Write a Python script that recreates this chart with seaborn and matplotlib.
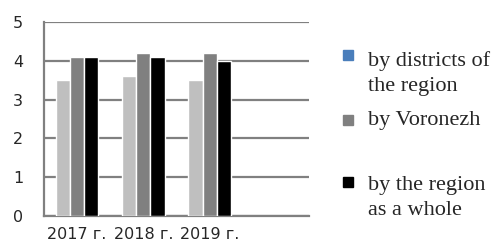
import matplotlib
matplotlib.use("Agg")
import matplotlib.pyplot as plt
import pandas as pd
import seaborn as sns
from matplotlib.patches import Rectangle

years = ["2017 г.", "2018 г.", "2019 г."]
series_names = ["by districts of\nthe region", "by Voronezh", "by the region\nas a whole"]
districts = [3.5, 3.6, 3.5]
voronezh = [4.1, 4.2, 4.2]
region = [4.1, 4.1, 4.0]

bar_colors = ["#bfbfbf", "#808080", "#000000"]
legend_colors = ["#4a7ebb", "#808080", "#000000"]

df = pd.DataFrame({
    "year": years * 3,
    "series": [series_names[0]] * 3 + [series_names[1]] * 3 + [series_names[2]] * 3,
    "value": districts + voronezh + region,
})

sns.set_style("white")
plt.rcParams["font.family"] = ["DejaVu Sans"]

fig = plt.figure(figsize=(4.93, 2.48), dpi=100)
ax = fig.add_axes([0.089, 0.129, 0.538, 0.782])

sns.barplot(
    data=df, x="year", y="value", hue="series", order=years,
    hue_order=series_names, palette=bar_colors, width=0.64,
    saturation=1, legend=False, ax=ax, zorder=3,
)

grid_color = "#808080"
ax.set_xlim(-0.5, 3.5)
ax.set_ylim(0, 5)
ax.set_yticks([0, 1, 2, 3, 4, 5])
ax.yaxis.grid(True, color=grid_color, linewidth=1.6, zorder=0)
ax.set_axisbelow(True)
ax.set_xticks([-0.5, 0.5, 1.5, 2.5, 3.5])
ax.set_xticklabels([])
ax.set_xticks([0, 1, 2], minor=True)
ax.set_xticklabels(years, minor=True)
ax.tick_params(axis="x", which="minor", length=0, labelsize=11.5, pad=8)
ax.tick_params(axis="x", which="major", length=5, width=1.6, color=grid_color, direction="out")
ax.tick_params(axis="y", length=5, width=1.6, color=grid_color, labelsize=11.5, pad=10, direction="out")
ax.set_xlabel("")
ax.set_ylabel("")
for side in ["top", "right"]:
    ax.spines[side].set_visible(False)
for side in ["left", "bottom"]:
    ax.spines[side].set_color(grid_color)
    ax.spines[side].set_linewidth(1.6)

# legend drawn by hand to follow the original spacing
W, H = 493, 248
entry_tops = [50, 115, 177]
text_centers = [73.5, 121, 198]
for color, name, top, mid in zip(legend_colors, series_names, entry_tops, text_centers):
    fig.patches.append(Rectangle((343 / W, 1 - (top + 10) / H), 10 / W, 10 / H,
                                 transform=fig.transFigure, color=color))
    fig.text(368 / W, 1 - mid / H, name, fontsize=16, va="center", ha="left",
             family=["Liberation Serif"], linespacing=1.45)

fig.savefig("out.png", dpi=100)
